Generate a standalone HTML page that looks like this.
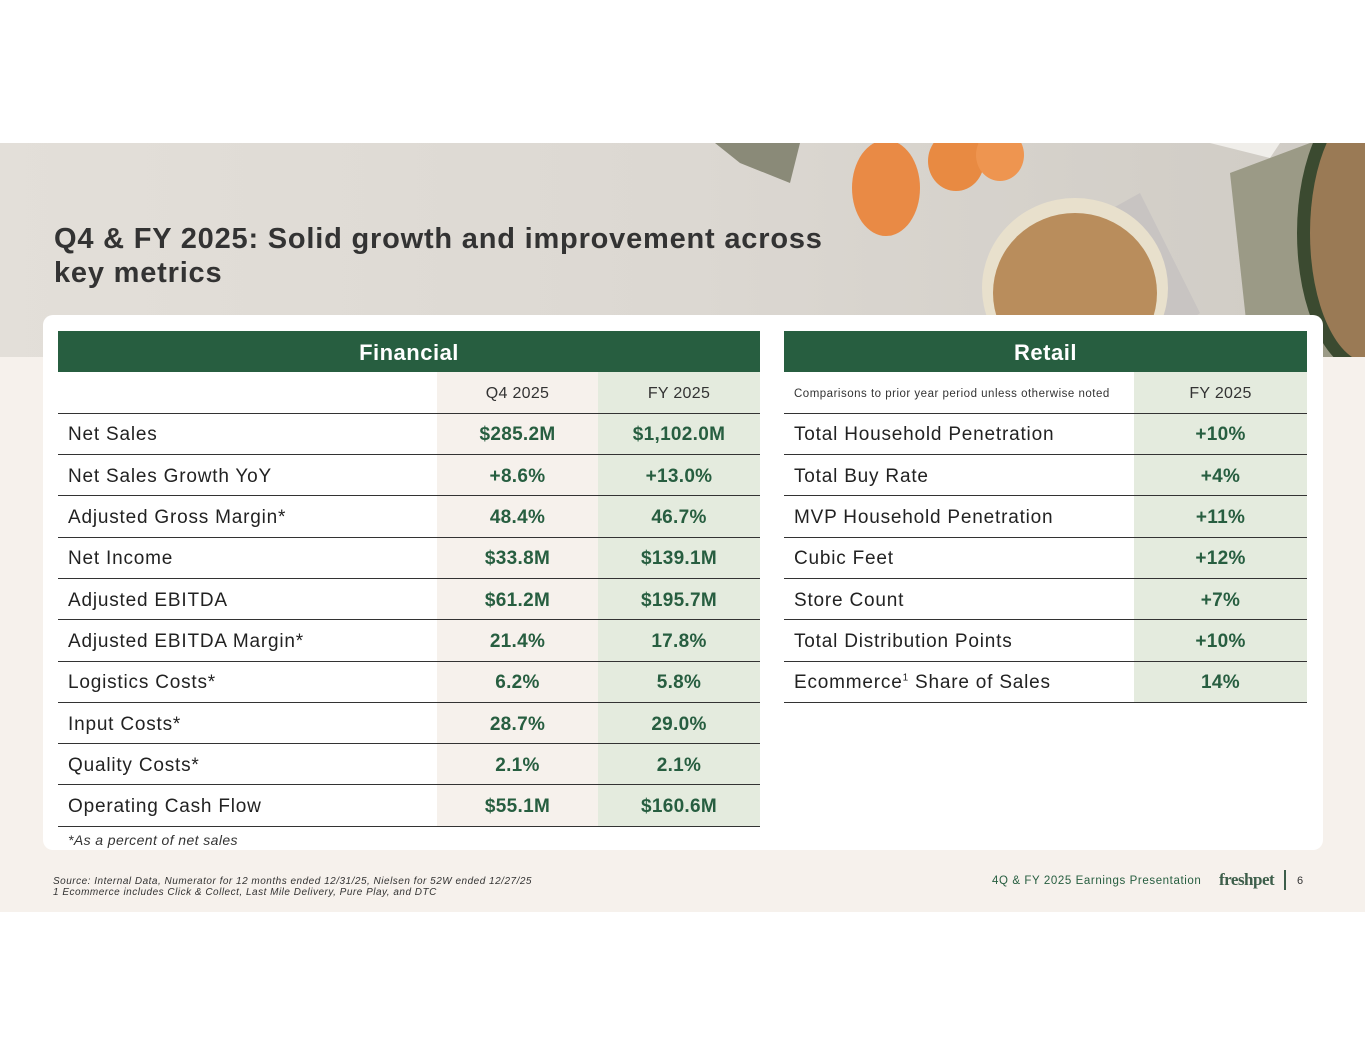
<!DOCTYPE html>
<html><head><meta charset="utf-8"><style>
*{margin:0;padding:0;box-sizing:border-box}
body{width:1365px;height:1055px;position:relative;background:#fff;font-family:"Liberation Sans",sans-serif;overflow:hidden}
.abs{position:absolute}
table{border-collapse:collapse;position:absolute;table-layout:fixed}
td{height:41.3px;border-bottom:1.3px solid #333;font-size:19px;color:#222;vertical-align:middle;padding-top:3px;letter-spacing:0.8px}
td.l{padding-left:10px}
td.v{text-align:center;font-weight:bold;color:#275e40;letter-spacing:0.3px}
td.q{background:#f6f1ec}
td.f{background:#e4ebde}
tr.h td{font-size:16px;font-weight:normal;color:#333;letter-spacing:0.3px}
.hdr{background:#275e40;color:#fff;font-weight:bold;font-size:22px;text-align:center;height:41px;line-height:43px;letter-spacing:0.5px}
</style></head><body>
<div class="abs" style="left:0;top:143px;width:1365px;height:214px;background:linear-gradient(90deg,#e3dfd9 0%,#dcd8d2 50%,#cfcbc4 100%);overflow:hidden">
<svg width="1365" height="214">
<path d="M715 0 L800 0 L790 40 L740 20Z" fill="#8a8a78"/>
<ellipse cx="886" cy="45" rx="34" ry="48" fill="#e98a45"/>
<ellipse cx="956" cy="18" rx="28" ry="30" fill="#e88a42"/>
<ellipse cx="1000" cy="12" rx="24" ry="26" fill="#ee9550"/>
<path d="M1050 100 L1140 50 L1200 170 L1140 214 Z" fill="#c8c4c2"/>
<ellipse cx="1075" cy="145" rx="93" ry="90" fill="#e8e0cc"/>
<ellipse cx="1075" cy="150" rx="82" ry="80" fill="#b98d5c"/>
<path d="M1210 0 L1280 0 L1270 15Z" fill="#f0eeea"/>
<path d="M1230 30 L1310 0 L1365 0 L1365 214 L1250 214Z" fill="#9b9a86"/>
<ellipse cx="1365" cy="90" rx="68" ry="140" fill="#3b4a30"/>
<ellipse cx="1370" cy="90" rx="60" ry="130" fill="#9a7a55"/>
</svg></div>
<div class="abs" style="left:0;top:357px;width:1365px;height:555px;background:#f6f1ec"></div>
<div class="abs" style="left:54px;top:222px;font-size:29px;font-weight:bold;color:#333;line-height:34px;letter-spacing:0.8px">Q4 &amp; FY 2025: Solid growth and improvement across<br>key metrics</div>
<div class="abs" style="left:43px;top:315px;width:1280px;height:535px;background:#fff;border-radius:10px"></div>

<div class="abs hdr" style="left:58px;top:331px;width:702px">Financial</div>
<table style="left:58px;top:372px;width:702px">
<colgroup><col style="width:379px"><col style="width:161px"><col style="width:162px"></colgroup>
<tr class="h"><td></td><td class="q" style="text-align:center">Q4 2025</td><td class="f" style="text-align:center">FY 2025</td></tr>
<tr><td class="l">Net Sales</td><td class="v q">$285.2M</td><td class="v f">$1,102.0M</td></tr>
<tr><td class="l">Net Sales Growth YoY</td><td class="v q">+8.6%</td><td class="v f">+13.0%</td></tr>
<tr><td class="l">Adjusted Gross Margin*</td><td class="v q">48.4%</td><td class="v f">46.7%</td></tr>
<tr><td class="l">Net Income</td><td class="v q">$33.8M</td><td class="v f">$139.1M</td></tr>
<tr><td class="l">Adjusted EBITDA</td><td class="v q">$61.2M</td><td class="v f">$195.7M</td></tr>
<tr><td class="l">Adjusted EBITDA Margin*</td><td class="v q">21.4%</td><td class="v f">17.8%</td></tr>
<tr><td class="l">Logistics Costs*</td><td class="v q">6.2%</td><td class="v f">5.8%</td></tr>
<tr><td class="l">Input Costs*</td><td class="v q">28.7%</td><td class="v f">29.0%</td></tr>
<tr><td class="l">Quality Costs*</td><td class="v q">2.1%</td><td class="v f">2.1%</td></tr>
<tr><td class="l">Operating Cash Flow</td><td class="v q">$55.1M</td><td class="v f">$160.6M</td></tr>
</table>
<div class="abs" style="left:68px;top:832px;font-size:14px;font-style:italic;color:#333;letter-spacing:0.4px">*As a percent of net sales</div>

<div class="abs hdr" style="left:784px;top:331px;width:523px">Retail</div>
<table style="left:784px;top:372px;width:523px">
<colgroup><col style="width:350px"><col style="width:173px"></colgroup>
<tr class="h"><td class="l" style="font-size:11.5px;letter-spacing:0.5px">Comparisons to prior year period unless otherwise noted</td><td class="f" style="text-align:center">FY 2025</td></tr>
<tr><td class="l">Total Household Penetration</td><td class="v f">+10%</td></tr>
<tr><td class="l">Total Buy Rate</td><td class="v f">+4%</td></tr>
<tr><td class="l">MVP Household Penetration</td><td class="v f">+11%</td></tr>
<tr><td class="l">Cubic Feet</td><td class="v f">+12%</td></tr>
<tr><td class="l">Store Count</td><td class="v f">+7%</td></tr>
<tr><td class="l">Total Distribution Points</td><td class="v f">+10%</td></tr>
<tr><td class="l">Ecommerce<sup style="font-size:10px">1</sup> Share of Sales</td><td class="v f">14%</td></tr>
</table>

<div class="abs" style="left:53px;top:876px;font-size:10px;font-style:italic;color:#333;line-height:11px;letter-spacing:0.5px">Source: Internal Data, Numerator for 12 months ended 12/31/25, Nielsen for 52W ended 12/27/25<br>1 Ecommerce includes Click &amp; Collect, Last Mile Delivery, Pure Play, and DTC</div>
<div class="abs" style="left:992px;top:875px;font-size:11.5px;color:#275e40;letter-spacing:0.6px">4Q &amp; FY 2025 Earnings Presentation</div>
<div class="abs" style="left:1219px;top:870px;font-size:17px;font-weight:bold;color:#3d5e4a;letter-spacing:-0.5px;font-family:'Liberation Serif',serif">freshpet</div>
<div class="abs" style="left:1284px;top:870px;width:2px;height:20px;background:#3d5e4a"></div>
<div class="abs" style="left:1297px;top:875px;font-size:11px;color:#333">6</div>
</body></html>
